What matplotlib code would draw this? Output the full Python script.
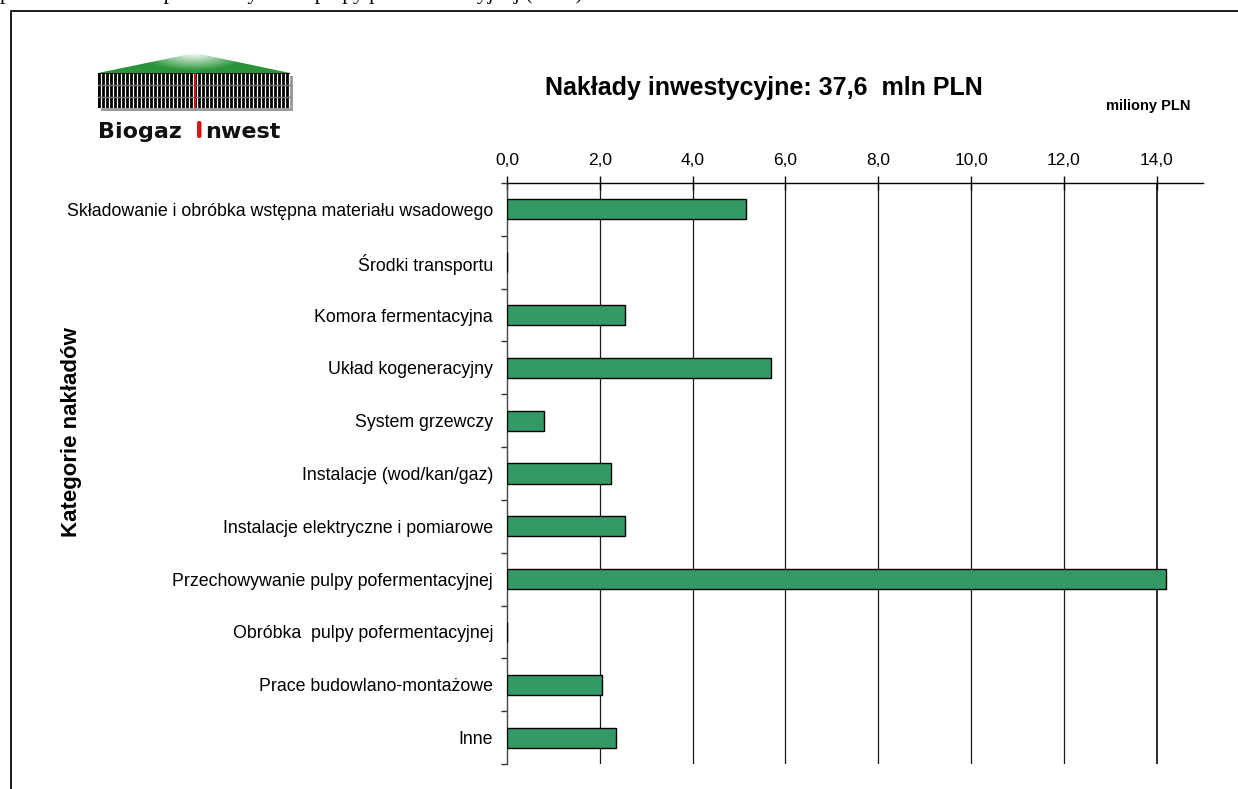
import numpy as np
import matplotlib
matplotlib.use("Agg")
import matplotlib.pyplot as plt
from matplotlib.patches import Polygon, Rectangle, FancyBboxPatch

# ---- data -------------------------------------------------------------
categories = [
    "Składowanie i obróbka wstępna materiału wsadowego",
    "Środki transportu",
    "Komora fermentacyjna",
    "Układ kogeneracyjny",
    "System grzewczy",
    "Instalacje (wod/kan/gaz)",
    "Instalacje elektryczne i pomiarowe",
    "Przechowywanie pulpy pofermentacyjnej",
    "Obróbka  pulpy pofermentacyjnej",
    "Prace budowlano-montażowe",
    "Inne",
]
values = [5.15, 0.0, 2.55, 5.70, 0.80, 2.25, 2.55, 14.20, 0.0, 2.05, 2.35]
x_ticks = [0, 2, 4, 6, 8, 10, 12, 14]
x_tick_labels = ["0,0", "2,0", "4,0", "6,0", "8,0", "10,0", "12,0", "14,0"]
title = "Nakłady inwestycyjne: 37,6  mln PLN"
unit_label = "miliony PLN"
y_title = "Kategorie nakładów"
caption = "podział nakładów: przechowywanie pulpy pofermentacyjnej (2010)"

W, H = 1238, 789
fig = plt.figure(figsize=(W / 100, H / 100), dpi=100)
fig.patch.set_facecolor("white")
plt.rcParams["font.family"] = ["Liberation Sans", "DejaVu Sans"]

# ---- bar chart --------------------------------------------------------
ax_l, ax_r, ax_t, ax_b = 507, 1203, 183, 764
ax = fig.add_axes([ax_l / W, (H - ax_b) / H, (ax_r - ax_l) / W, (ax_b - ax_t) / H])
n = len(categories)
pos = np.arange(n)
ax.barh(pos, values, height=0.38, color="#339966", edgecolor="black",
        linewidth=1.0, zorder=3)
ax.set_xlim(0, 15)
ax.set_ylim(n - 0.5, -0.5)

ax.xaxis.tick_top()
ax.set_xticks(x_ticks)
ax.set_xticklabels(x_tick_labels, fontsize=12.5)
ax.tick_params(axis="x", direction="inout", length=10, width=1.0,
               pad=6, colors="black")
for xv in x_ticks[1:]:
    lw = 1.3 if xv == x_ticks[-1] else 0.9
    ax.axvline(xv, color="#1a1a1a", linewidth=lw, zorder=1)

ax.set_yticks(pos)
ax.set_yticklabels(categories, fontsize=12.8)
ax.tick_params(axis="y", which="major", length=0, pad=10)
ax.set_yticks(np.arange(n + 1) - 0.5, minor=True)
ax.tick_params(axis="y", which="minor", direction="out", length=4,
               width=1.0, color="#333333")

for s in ("right", "bottom"):
    ax.spines[s].set_visible(False)
ax.spines["top"].set_linewidth(1.0)
ax.spines["left"].set_linewidth(1.0)
ax.spines["left"].set_color("#444444")
ax.set_facecolor("none")

# ---- overlay in pixel coordinates -------------------------------------
ov = fig.add_axes([0, 0, 1, 1], zorder=-1)
ov.set_xlim(0, W)
ov.set_ylim(H, 0)
ov.axis("off")

# chart frame (runs off the right and bottom edges)
ov.plot([11, 11, W + 5], [H + 5, 11, 11], color="#1a1a1a", linewidth=1.4)

# caption line above the frame, almost entirely outside the page
ov.text(0, -1.0, caption, family="Liberation Serif", fontsize=15.5,
        va="baseline", ha="left", color="black", clip_on=False)

# titles
ov.text(764, 88, title, fontsize=18, fontweight="bold", ha="center",
        va="center")
ov.text(1191, 106, unit_label, fontsize=10.5, fontweight="bold", ha="right",
        va="center")
ov.text(72, 432, y_title, fontsize=16, fontweight="bold", rotation=90,
        ha="center", va="center")

# ---- logo -------------------------------------------------------------
lx0, lx1, apex_x = 98, 290, 195
roof_top, roof_base, grill_bot = 53, 73, 108

# roof with a soft highlight near the apex
gx = np.linspace(-1, 1, 200)
gy = np.linspace(0, 1, 40)
GX, GY = np.meshgrid(gx, gy)
d = np.sqrt((GX / 0.55) ** 2 + (GY / 0.9) ** 2)
t = np.clip(d, 0, 1)[..., None]
green = np.array([0.16, 0.58, 0.22])
white = np.array([1.0, 1.0, 1.0])
img = white * (1 - t) + green * t
roof = Polygon([[lx0, roof_base], [apex_x, roof_top], [lx1, roof_base]],
               closed=True, facecolor="none", edgecolor="none")
ov.add_patch(roof)
im = ov.imshow(img, extent=(lx0, lx1, roof_base, roof_top), aspect="auto",
               interpolation="bilinear", zorder=2)
im.set_clip_path(roof)

# grille body with shadow
ov.add_patch(Rectangle((lx0 + 3, roof_base + 3), lx1 - lx0, grill_bot - roof_base,
                       facecolor="#9a9a9a", edgecolor="none", zorder=2))
ov.add_patch(Rectangle((lx0, roof_base), lx1 - lx0, grill_bot - roof_base,
                       facecolor="black", edgecolor="none", zorder=3))
for gxp in np.arange(lx0 + 2.5, lx1 - 1, 4.0):
    ov.plot([gxp, gxp], [roof_base + 1, grill_bot - 1], color="white",
            linewidth=0.9, zorder=4)
for gyp in (85, 97):
    ov.plot([lx0, lx1], [gyp, gyp], color="#777777", linewidth=1.0, zorder=5)
ov.add_patch(Rectangle((apex_x - 1, roof_base), 2.2, grill_bot - roof_base,
                       facecolor="#cc1111", edgecolor="none", zorder=6))

# company name with the red "I"
ov.text(lx0, 138, "Biogaz", family="DejaVu Sans", fontsize=16,
        fontweight="bold", color="#111111", ha="left", va="baseline")
ov.add_patch(FancyBboxPatch((197, 121), 4.5, 17,
                            boxstyle="round,pad=0,rounding_size=2",
                            facecolor="#dd1111", edgecolor="none", zorder=6))
ov.text(205, 138, "nwest", family="DejaVu Sans", fontsize=16,
        fontweight="bold", color="#111111", ha="left", va="baseline")

fig.savefig("out.png", dpi=100, facecolor="white")
